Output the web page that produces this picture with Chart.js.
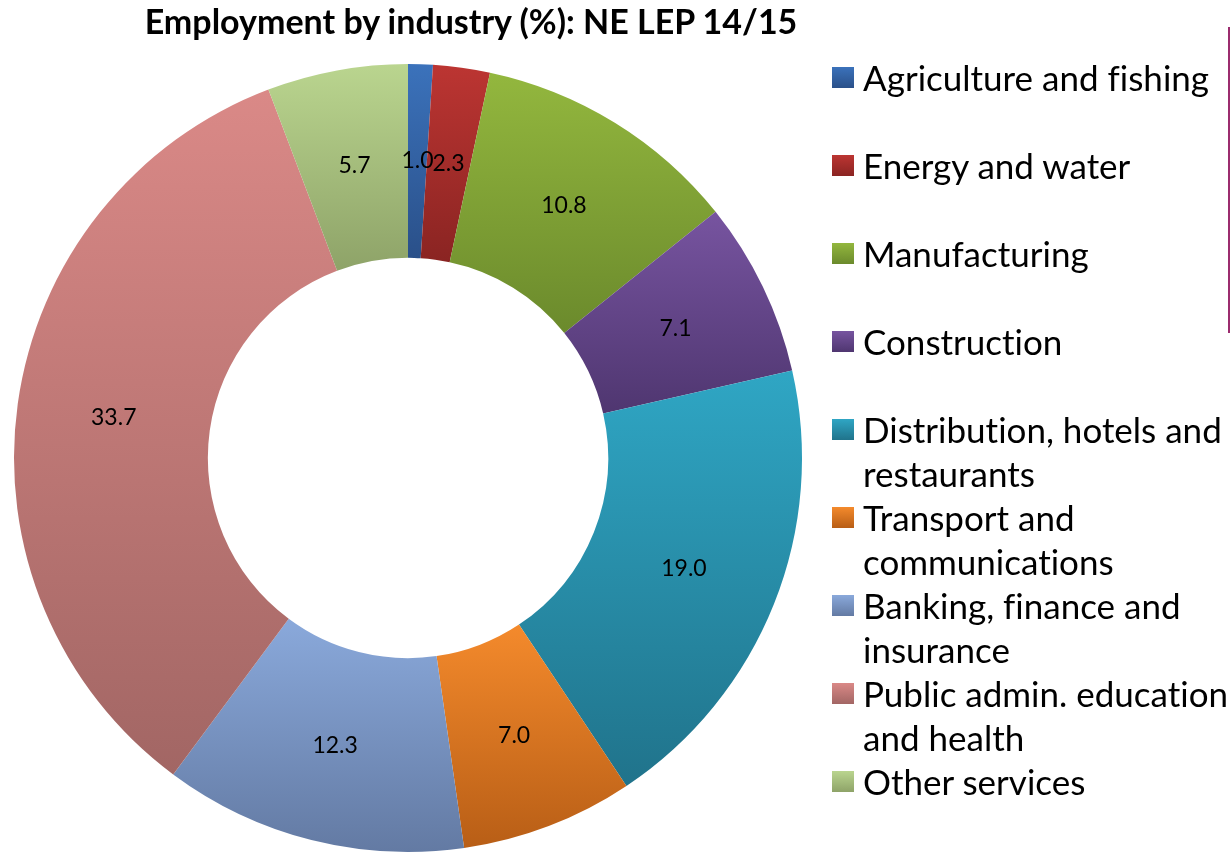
<!DOCTYPE html>
<html>
<head>
<meta charset="utf-8">
<script src="https://cdn.jsdelivr.net/npm/chart.js@4.4.1/dist/chart.umd.min.js"></script>
<style>
    html, body { margin: 0; padding: 0; background: #fff; overflow: hidden; }
    #wrap { position: relative; width: 1231px; height: 855px; }
    #chartBox { position: absolute; left: 0; top: 0; width: 1231px; height: 860px; }
    #title {
        position: absolute; left: 0; width: 942px; top: 0px;
        text-align: center; font: bold 34px Lato, sans-serif; color: #000;
    }
    #legend {
        position: absolute; left: 832px; top: 55px; font: 35px Lato, sans-serif; color: #000;
        font-variant-ligatures: none;
    }
    .item { display: flex; line-height: 44px; }
    .item .box { width: 22px; height: 21px; margin-top: 12px; margin-right: 9px; flex: none; }
    .gap { height: 44px; }
    #rule { position: absolute; left: 1228px; top: 27px; width: 2px; height: 306px; background: #9b2c6e; }
</style>
</head>
<body>
<div id="wrap">
    <div id="chartBox"><canvas id="industryChart"></canvas></div>
    <div id="title">Employment by industry (%): NE LEP 14/15</div>
    <div id="legend"></div>
    <div id="rule"></div>
</div>
<script>
const industries = [
    "Agriculture and fishing",
    "Energy and water",
    "Manufacturing",
    "Construction",
    "Distribution, hotels and restaurants",
    "Transport and communications",
    "Banking, finance and insurance",
    "Public admin. education and health",
    "Other services"
];
// legend text split the way the original wraps it
const legendLines = [
    ["Agriculture and fishing"],
    ["Energy and water"],
    ["Manufacturing"],
    ["Construction"],
    ["Distribution, hotels and", "restaurants"],
    ["Transport and", "communications"],
    ["Banking, finance and", "insurance"],
    ["Public admin. education", "and health"],
    ["Other services"]
];
const shares = [1.0, 2.3, 10.8, 7.1, 19.0, 7.0, 12.3, 33.7, 5.7];
const topColors = ["#3b72bb", "#bc3532", "#93b73e", "#7754a0", "#2fa6c4", "#f48a2c", "#8aa9db", "#da8987", "#bad58f"];
const bottomColors = ["#2a5089", "#8a2422", "#6b8a2c", "#4f3670", "#20738b", "#b85e16", "#637aa3", "#a26664", "#8ea368"];

const CUTOUT = 0.508;

// vertical gradient over each slice's own height, like the office chart fill
function sliceGradient(ctx) {
    const chart = ctx.chart;
    const i = ctx.dataIndex;
    const area = chart.chartArea;
    if (!area || i === undefined) return topColors[i] || "#999";
    const cx = (area.left + area.right) / 2;
    const cy = (area.top + area.bottom) / 2;
    const r1 = Math.min(area.width, area.height) / 2;
    const r0 = r1 * CUTOUT;
    const total = shares.reduce((a, b) => a + b, 0);
    let before = 0;
    for (let k = 0; k < i; k++) before += shares[k];
    const a0 = -Math.PI / 2 + before / total * 2 * Math.PI;
    const a1 = a0 + shares[i] / total * 2 * Math.PI;
    let ymin = Infinity, ymax = -Infinity;
    for (let s = 0; s <= 60; s++) {
        const a = a0 + (a1 - a0) * s / 60;
        for (const r of [r0, r1]) {
            const y = cy + r * Math.sin(a);
            ymin = Math.min(ymin, y);
            ymax = Math.max(ymax, y);
        }
    }
    const g = chart.ctx.createLinearGradient(0, ymin, 0, ymax);
    g.addColorStop(0, topColors[i]);
    g.addColorStop(1, bottomColors[i]);
    return g;
}

const valueLabels = {
    id: "valueLabels",
    afterDatasetsDraw(chart) {
        const c = chart.ctx;
        c.save();
        c.font = "23px Lato, sans-serif";
        c.fillStyle = "#000";
        c.textAlign = "center";
        c.textBaseline = "middle";
        chart.getDatasetMeta(0).data.forEach((arc, i) => {
            const p = arc.tooltipPosition();
            c.fillText(shares[i].toFixed(1), p.x, p.y);
        });
        c.restore();
    }
};

new Chart(document.getElementById("industryChart"), {
    type: "doughnut",
    data: {
        labels: industries,
        datasets: [{
            data: shares,
            backgroundColor: sliceGradient,
            borderWidth: 0
        }]
    },
    options: {
        responsive: true,
        maintainAspectRatio: false,
        animation: false,
        cutout: (CUTOUT * 100) + "%",
        layout: { padding: { top: 64, bottom: 8, left: 14, right: 429 } },
        plugins: {
            legend: { display: false },
            tooltip: { enabled: false }
        }
    },
    plugins: [valueLabels]
});

const legend = document.getElementById("legend");
legendLines.forEach((lines, i) => {
    const item = document.createElement("div");
    item.className = "item";
    const box = document.createElement("div");
    box.className = "box";
    box.style.background = "linear-gradient(" + topColors[i] + ", " + bottomColors[i] + ")";
    const txt = document.createElement("div");
    txt.innerHTML = lines.join("<br>");
    item.appendChild(box);
    item.appendChild(txt);
    legend.appendChild(item);
    if (i < 4) {
        const gap = document.createElement("div");
        gap.className = "gap";
        legend.appendChild(gap);
    }
});
</script>
</body>
</html>
